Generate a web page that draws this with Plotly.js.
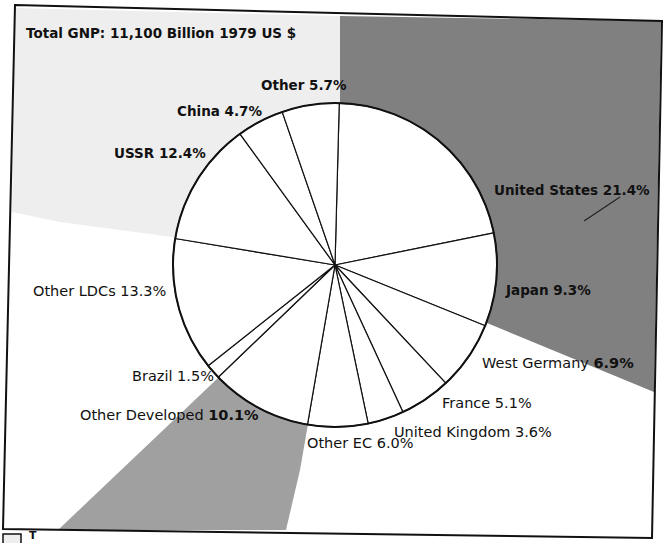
<!DOCTYPE html>
<html>
<head>
<meta charset="utf-8">
<script src="https://cdn.plot.ly/plotly-3.0.1.min.js"></script>
<style>html,body{margin:0;padding:0;background:#fff;}#chart{width:663px;height:543px;}</style>
</head>
<body>
<div id="chart"></div>
<script>
// ---- data ----
var titleText = "Total GNP: 11,100 Billion 1979 US $";
var regions = ["United States", "Japan", "West Germany", "France", "United Kingdom",
               "Other EC", "Other Developed", "Brazil", "Other LDCs", "USSR", "China", "Other"];
var shares = [21.4, 9.3, 6.9, 5.1, 3.6, 6.0, 10.1, 1.5, 13.3, 12.4, 4.7, 5.7];

// ---- layout helpers (positions / styles, not data) ----
var W = 663, H = 543;
function px(x){ return x / W; }
function py(y){ return 1 - y / H; }
var cx = 335, cy = 265, R = 162;
var FONT = "DejaVu Sans, Verdana, sans-serif";
// label anchor (left x, middle y) in page pixels, same order as regions
var labelPos = [[492,190],[503,290],[480,363],[440,403],[392,432],
                [305,443],[78,415],[130,376],[31,291],[112,153],[175,111],[259,85]];
// which part of the label looks bold in the scan
var boldPart = ["all","all","pct","none","none","none","pct","none","none","all","all","all"];

var annotations = regions.map(function(r, i){
  var pct = shares[i].toFixed(1) + "%";
  var t;
  if (boldPart[i] === "all") t = "<b>" + r + " " + pct + "</b>";
  else if (boldPart[i] === "pct") t = r + " <b>" + pct + "</b>";
  else t = r + " " + pct;
  return {
    xref: "paper", yref: "paper", x: px(labelPos[i][0]), y: py(labelPos[i][1]),
    xanchor: "left", yanchor: "middle", showarrow: false, text: t,
    font: {family: FONT, size: boldPart[i] === "all" ? 13.5 : 14.5, color: "#111"}
  };
});
annotations.push({
  xref: "paper", yref: "paper", x: px(24), y: py(33), xanchor: "left", yanchor: "middle",
  showarrow: false, text: "<b>" + titleText + "</b>",
  font: {family: FONT, size: 13.5, color: "#111"}
});
annotations.push({
  xref: "paper", yref: "paper", x: px(28), y: py(543), xanchor: "left", yanchor: "bottom",
  showarrow: false, text: "<b>T</b>", borderpad: 0,
  font: {family: FONT, size: 11, color: "#111"}
});

function poly(pts){
  return pts.map(function(p, i){ return (i ? "L" : "M") + px(p[0]) + "," + py(p[1]); }).join(" ") + " Z";
}

var shapes = [
  // light speckled area, upper left
  {type: "path", xref: "paper", yref: "paper", layer: "below",
   path: poly([[15,8],[340,16],[340,120],[cx,cy],[180,238],[60,222],[12,212]]),
   fillcolor: "#eeeeee", line: {width: 0}},
  // dark textured area, upper right
  {type: "path", xref: "paper", yref: "paper", layer: "below",
   path: poly([[340,16],[661,21],[654,392],[487,323],[cx,cy],[340,110]]),
   fillcolor: "#808080", line: {width: 0}},
  // medium textured area, lower left
  {type: "path", xref: "paper", yref: "paper", layer: "below",
   path: poly([[218,378],[cx,cy],[308,424],[300,470],[286,530],[58,530]]),
   fillcolor: "#a0a0a0", line: {width: 0}},
  // tilted frame
  {type: "path", xref: "paper", yref: "paper", layer: "above",
   path: poly([[15,5],[662,21],[652,538],[3,529]]),
   fillcolor: "rgba(0,0,0,0)", line: {color: "#111", width: 2}},
  // stray pen stroke near the United States label
  {type: "line", xref: "paper", yref: "paper", layer: "above",
   x0: px(620), y0: py(197), x1: px(584), y1: py(221), line: {color: "#222", width: 1.2}},
  // small box bottom-left
  {type: "rect", xref: "paper", yref: "paper", layer: "above",
   x0: px(3), y0: py(534), x1: px(21), y1: py(545),
   fillcolor: "#eeeeee", line: {color: "#111", width: 1.5}},
  // heavier outer rim of the pie
  {type: "circle", xref: "paper", yref: "paper", layer: "above",
   x0: px(cx - R), x1: px(cx + R), y0: py(cy + R), y1: py(cy - R),
   line: {color: "#111", width: 2}}
];

var trace = {
  type: "pie", values: shares, labels: regions, sort: false, direction: "clockwise",
  rotation: 1.5, textinfo: "none", hoverinfo: "label+percent", showlegend: false,
  marker: {colors: regions.map(function(){ return "#ffffff"; }), line: {color: "#111", width: 1.2}},
  domain: {x: [px(cx - R), px(cx + R)], y: [py(cy + R), py(cy - R)]}
};

var layout = {
  width: W, height: H, margin: {l: 0, r: 0, t: 0, b: 0},
  paper_bgcolor: "#ffffff", plot_bgcolor: "#ffffff",
  showlegend: false, shapes: shapes, annotations: annotations
};

Plotly.newPlot("chart", [trace], layout, {displayModeBar: false, staticPlot: true});
</script>
</body>
</html>
